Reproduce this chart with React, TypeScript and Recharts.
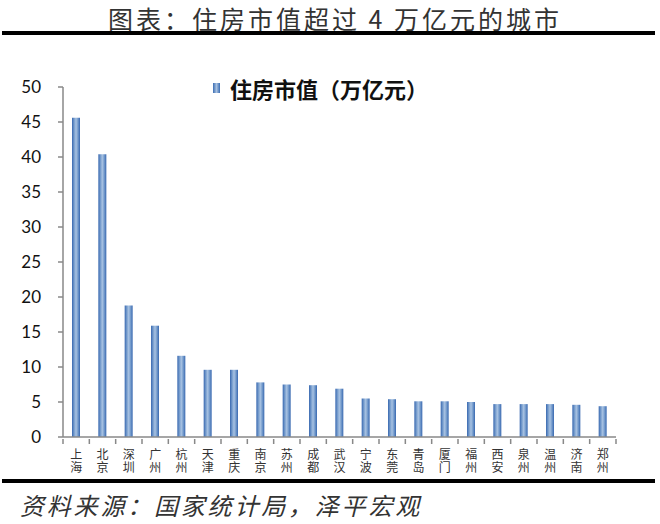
import React from 'react';
import { BarChart, Bar, XAxis, YAxis, Legend } from 'recharts';

const cities = ['上海', '北京', '深圳', '广州', '杭州', '天津', '重庆', '南京', '苏州', '成都', '武汉', '宁波', '东莞', '青岛', '厦门', '福州', '西安', '泉州', '温州', '济南', '郑州'];
const marketValue = [45.6, 40.4, 18.8, 15.9, 11.6, 9.6, 9.6, 7.8, 7.5, 7.4, 6.9, 5.5, 5.4, 5.1, 5.1, 5.0, 4.7, 4.7, 4.7, 4.6, 4.4];
const yTicks = [0, 5, 10, 15, 20, 25, 30, 35, 40, 45, 50];
const seriesName = '住房市值（万亿元）';

const data = cities.map((city, i) => ({ city, value: marketValue[i] }));

const cjk = '"Noto Sans CJK SC", sans-serif';

// vertical city label plus Excel-style tick marks between categories
const CityTick = (props: any) => {
  const { x, y, payload, index } = props;
  const off = payload.offset || 0;
  return (
    <g>
      <line x1={x - off} y1={y} x2={x - off} y2={y + 5} stroke="#888" strokeWidth={1.5} />
      {index === cities.length - 1 && (
        <line x1={x + off} y1={y} x2={x + off} y2={y + 5} stroke="#888" strokeWidth={1.5} />
      )}
      <text
        x={x}
        y={y + 9}
        fontSize={12}
        fontFamily={cjk}
        fill="#333"
        letterSpacing={1.5}
        style={{ writingMode: 'vertical-rl' }}
      >
        {payload.value}
      </text>
    </g>
  );
};

const LegendBox = () => (
  <div style={{ display: 'flex', alignItems: 'center', fontFamily: cjk, fontSize: 22, fontWeight: 700, color: '#111' }}>
    <span
      style={{
        display: 'inline-block',
        width: 7,
        height: 10,
        marginRight: 10,
        background: 'linear-gradient(to right, #3b6db3, #a6c0e0, #3b6db3)',
      }}
    />
    {seriesName}
  </div>
);

export default function App() {
  return (
    <div style={{ position: 'absolute', left: 0, top: 0, width: 660, height: 524, background: '#fff' }}>
      <div
        style={{
          position: 'absolute',
          left: 335,
          top: 0,
          transform: 'translateX(-50%)',
          whiteSpace: 'nowrap',
          fontFamily: cjk,
          fontSize: 25,
          letterSpacing: 3,
          lineHeight: '37px',
          color: '#333',
        }}
      >
        图表：住房市值超过 4 万亿元的城市
      </div>
      <div style={{ position: 'absolute', left: 2, top: 31, width: 653, height: 4, background: '#000' }} />

      <div style={{ position: 'absolute', left: 0, top: 0 }}>
        <BarChart width={660} height={524} data={data} margin={{ top: 87, right: 44, bottom: 27, left: 0 }}>
          <defs>
            <linearGradient id="barFill" x1="0" y1="0" x2="1" y2="0">
              <stop offset="0%" stopColor="#3868b0" />
              <stop offset="30%" stopColor="#7da2d0" />
              <stop offset="50%" stopColor="#a8c2e2" />
              <stop offset="70%" stopColor="#7da2d0" />
              <stop offset="100%" stopColor="#3868b0" />
            </linearGradient>
          </defs>
          <XAxis
            dataKey="city"
            interval={0}
            height={60}
            tickSize={0}
            tickLine={false}
            axisLine={{ stroke: '#888', strokeWidth: 1.5 }}
            tick={<CityTick />}
          />
          <YAxis
            width={63}
            domain={[0, 50]}
            ticks={yTicks}
            interval={0}
            tickSize={5}
            tickMargin={17}
            axisLine={{ stroke: '#888', strokeWidth: 1.5 }}
            tickLine={{ stroke: '#888', strokeWidth: 1.5 }}
            tick={{ fontFamily: 'Lato, sans-serif', fontSize: 17, fill: '#111' }}
          />
          <Legend
            verticalAlign="middle"
            content={<LegendBox />}
            wrapperStyle={{ position: 'absolute', left: 213, top: 72, width: 260 }}
          />
          <Bar dataKey="value" name={seriesName} barSize={8} fill="url(#barFill)" isAnimationActive={false} />
        </BarChart>
      </div>

      <div style={{ position: 'absolute', left: 2, top: 479, width: 653, height: 4, background: '#000' }} />
      <div
        style={{
          position: 'absolute',
          left: 20,
          top: 490,
          fontFamily: cjk,
          fontSize: 24,
          fontStyle: 'italic',
          letterSpacing: 2.8,
          lineHeight: '30px',
          color: '#333',
        }}
      >
        资料来源：国家统计局，泽平宏观
      </div>
    </div>
  );
}
